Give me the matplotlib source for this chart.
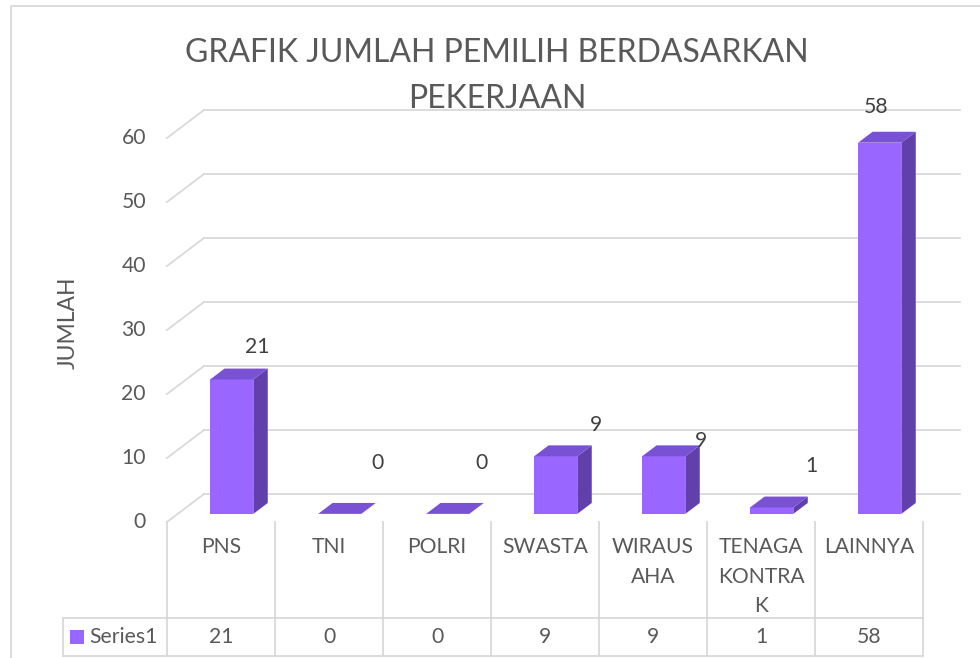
import matplotlib
matplotlib.use("Agg")
import matplotlib.pyplot as plt
from matplotlib.patches import Polygon, Rectangle

# ---------------- data ----------------
categories = ["PNS", "TNI", "POLRI", "SWASTA", "WIRAUSAHA", "TENAGA KONTRAK", "LAINNYA"]
tick_labels = ["PNS", "TNI", "POLRI", "SWASTA", "WIRAUS\nAHA", "TENAGA\nKONTRA\nK", "LAINNYA"]
values = [21, 0, 0, 9, 9, 1, 58]
series_name = "Series1"
y_ticks = [0, 10, 20, 30, 40, 50, 60]
title_lines = ["GRAFIK JUMLAH PEMILIH BERDASARKAN", "PEKERJAAN"]
y_label = "JUMLAH"

# ---------------- style / layout ----------------
plt.rcParams['font.family'] = ['Lato', 'DejaVu Sans']
TXT = '#595959'
GRID = '#D9D9D9'
FRONT = '#9966FF'
TOP = '#7852D2'
SIDE = '#6140AC'
FS = 15.2

W, H = 980, 658
PX_CAT = 108.0     # pixels per category slot
PX_VAL = 6.4       # pixels per value unit
X0 = 167.0         # pixel x of the left edge of the first slot
Y0 = 522.0         # pixel y of the zero line (front)

def px2x(px):
    return -0.5 + (px - X0) / PX_CAT

def px2y(py):
    return (Y0 - py) / PX_VAL

# depth vector of the 3D box (in data units)
DX = 37 / PX_CAT
DY = 28 / PX_VAL
F_FRONT, F_BACK = 0.29, 0.68
BAR_W = 0.40

# data label nudges (category units, value units)
label_dx = [0.34, 0.45, 0.41, 0.47, 0.44, 0.47, 0.07]
label_dy = [6.3, 9.2, 9.2, 6.2, 3.7, 7.75, 6.8]

fig = plt.figure(figsize=(W / 100, H / 100), dpi=100)
ax = fig.add_axes([0, 0, 1, 1])
ax.set_xlim(px2x(0), px2x(W))
ax.set_ylim(px2y(H), px2y(0))
ax.axis('off')

n = len(categories)

# chart border (top and left visible)
ax.plot([px2x(11), px2x(W)], [px2y(6), px2y(6)], color=GRID, lw=1.3, solid_capstyle='butt')
ax.plot([px2x(11), px2x(11)], [px2y(6), px2y(H)], color=GRID, lw=1.3, solid_capstyle='butt')

# gridlines: back wall + left wall diagonals
for t in y_ticks:
    ax.plot([-0.5 + DX, n - 0.5 + DX], [t + DY, t + DY], color=GRID, lw=1.3, zorder=1)
    ax.plot([-0.5, -0.5 + DX], [t, t + DY], color=GRID, lw=1.3, zorder=1)
    ax.text(px2x(146), t, str(t), ha='right', va='center', fontsize=FS, color=TXT)

# bars
ddx = (F_BACK - F_FRONT) * DX
ddy = (F_BACK - F_FRONT) * DY
for i, v in enumerate(values):
    xl = i - BAR_W / 2 + F_FRONT * DX
    xr = xl + BAR_W
    yb = F_FRONT * DY
    yt = v + F_FRONT * DY
    if v > 0:
        ax.add_patch(Polygon([(xr, yb), (xr + ddx, yb + ddy), (xr + ddx, yt + ddy), (xr, yt)],
                             closed=True, fc=SIDE, ec='none', zorder=3))
        ax.add_patch(Polygon([(xl, yb), (xr, yb), (xr, yt), (xl, yt)],
                             closed=True, fc=FRONT, ec='none', zorder=3))
    ax.add_patch(Polygon([(xl, yt), (xr, yt), (xr + ddx, yt + ddy), (xl + ddx, yt + ddy)],
                         closed=True, fc=TOP, ec='none', zorder=3))
    ax.text(i + label_dx[i], v + label_dy[i], str(v), ha='center', va='center',
            fontsize=FS, color='#404040', zorder=5)

# category cells / data table
y_row_top = px2y(618)
y_bottom = px2y(656)
for k in range(n + 1):
    ax.plot([k - 0.5, k - 0.5], [0, y_bottom], color=GRID, lw=1.3, zorder=1)
x_tab_left = px2x(63)
ax.plot([x_tab_left, x_tab_left], [y_row_top, y_bottom], color=GRID, lw=1.3)
ax.plot([x_tab_left, n - 0.5], [y_row_top, y_row_top], color=GRID, lw=1.3)
ax.plot([x_tab_left, n - 0.5], [y_bottom, y_bottom], color=GRID, lw=1.3)

for i, lab in enumerate(tick_labels):
    ax.text(i, px2y(537), lab, ha='center', va='top', fontsize=FS, color=TXT, linespacing=1.6)
    ax.text(i, px2y(637), str(values[i]), ha='center', va='center', fontsize=FS, color=TXT)

ax.add_patch(Rectangle((px2x(70), px2y(644)), 14 / PX_CAT, 14 / PX_VAL, fc=FRONT, ec='none'))
ax.text(px2x(89), px2y(637), series_name, ha='left', va='center', fontsize=FS, color=TXT)

# title and axis label
for line, ypx in zip(title_lines, [53, 99]):
    ax.text(px2x(497), px2y(ypx), line, ha='center', va='center', fontsize=23, color=TXT)
ax.text(px2x(68), px2y(323), y_label, ha='center', va='center', rotation=90,
        fontsize=16.5, color=TXT)

fig.savefig('out.png', dpi=100)
